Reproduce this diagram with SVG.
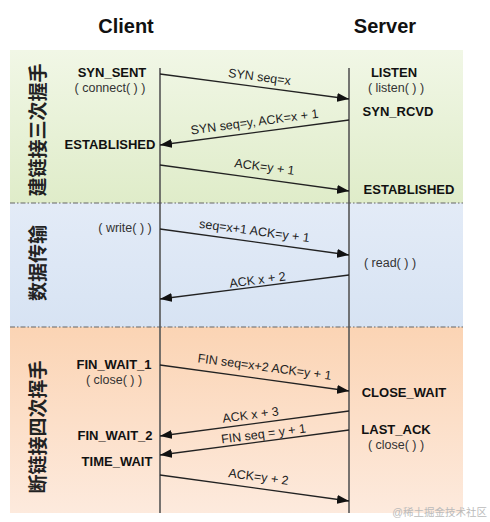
<svg xmlns="http://www.w3.org/2000/svg" width="490" height="522" viewBox="0 0 490 522">
<defs>
<linearGradient id="gGreen" x1="0" y1="0" x2="0" y2="1"><stop offset="0" stop-color="#f1f7e6"/><stop offset="1" stop-color="#dfecc9"/></linearGradient>
<linearGradient id="gBlue" x1="0" y1="0" x2="0" y2="1"><stop offset="0" stop-color="#e3ebf7"/><stop offset="1" stop-color="#d7e3f3"/></linearGradient>
<linearGradient id="gOrange" x1="0" y1="0" x2="0" y2="1"><stop offset="0" stop-color="#fbd4b4"/><stop offset="1" stop-color="#fdeadd"/></linearGradient>
<marker id="ah" markerUnits="userSpaceOnUse" markerWidth="13" markerHeight="9" refX="12" refY="4.5" orient="auto"><path d="M0,0 L12,4.5 L0,9 z" fill="#111"/></marker>
</defs>
<style>
.title{font-family:"Liberation Sans",Arial,sans-serif;font-size:20px;font-weight:bold;fill:#111;text-anchor:middle}
.st{font-family:"Liberation Sans",Arial,sans-serif;font-size:13px;font-weight:bold;fill:#111;text-anchor:middle}
.fn{font-family:"Liberation Sans",Arial,sans-serif;font-size:12.5px;fill:#333;text-anchor:middle}
.lb{font-family:"Liberation Sans",Arial,sans-serif;font-size:12.5px;fill:#222;text-anchor:middle}
.cjk{font-family:"Liberation Sans","Noto Sans CJK SC",sans-serif;font-size:19px;font-weight:bold;fill:#222;text-anchor:middle;dominant-baseline:central}
.msg{stroke:#222;stroke-width:1.3;fill:none;marker-end:url(#ah)}
.life{stroke:#555;stroke-width:1.6}
.sep{stroke:#666;stroke-width:1.2;stroke-dasharray:5 2 1.5 2}
.wm{font-family:"Liberation Sans","Noto Sans CJK SC",sans-serif;font-size:10.5px;fill:#bbb;text-anchor:end}
</style>
<rect x="0" y="0" width="490" height="522" fill="#ffffff"/>
<g id="zones">
<rect x="10" y="50" width="453" height="153" fill="url(#gGreen)"/>
<rect x="10" y="203" width="453" height="124" fill="url(#gBlue)"/>
<rect x="10" y="327" width="453" height="186" fill="url(#gOrange)"/>
<line class="sep" x1="10" y1="203" x2="463" y2="203"/>
<line class="sep" x1="10" y1="327" x2="463" y2="327"/>
</g>
<g id="phase-labels">
<text class="cjk" transform="translate(38,130) rotate(-90)">建链接三次握手</text>
<text class="cjk" transform="translate(38,263) rotate(-90)">数据传输</text>
<text class="cjk" transform="translate(38,427) rotate(-90)">断链接四次挥手</text>
</g>
<g id="client">
<text class="title" x="126" y="33">Client</text>
<line class="life" x1="160" y1="68" x2="160" y2="513"/>
</g>
<g id="server">
<text class="title" x="385" y="33">Server</text>
<line class="life" x1="349" y1="68" x2="349" y2="513"/>
</g>
<g id="client-states">
<text class="st" x="112" y="77">SYN_SENT</text>
<text class="fn" x="110" y="92">( connect( ) )</text>
<text class="st" x="110" y="149">ESTABLISHED</text>
<text class="fn" x="125" y="232">( write( ) )</text>
<text class="st" x="114" y="369">FIN_WAIT_1</text>
<text class="fn" x="114" y="384">( close( ) )</text>
<text class="st" x="115" y="440">FIN_WAIT_2</text>
<text class="st" x="117" y="466">TIME_WAIT</text>
</g>
<g id="server-states">
<text class="st" x="394" y="77">LISTEN</text>
<text class="fn" x="396" y="92">( listen( ) )</text>
<text class="st" x="398" y="116">SYN_RCVD</text>
<text class="st" x="409" y="194">ESTABLISHED</text>
<text class="fn" x="390" y="267">( read( ) )</text>
<text class="st" x="404" y="397">CLOSE_WAIT</text>
<text class="st" x="396" y="434">LAST_ACK</text>
<text class="fn" x="396" y="449">( close( ) )</text>
</g>
<g id="connectors">
<line class="msg" x1="160" y1="74" x2="349" y2="99"/>
<line class="msg" x1="349" y1="120" x2="160" y2="145"/>
<line class="msg" x1="160" y1="165" x2="349" y2="191"/>
<line class="msg" x1="160" y1="229" x2="349" y2="255"/>
<line class="msg" x1="349" y1="275" x2="160" y2="299"/>
<line class="msg" x1="160" y1="365" x2="349" y2="391"/>
<line class="msg" x1="349" y1="411" x2="160" y2="436"/>
<line class="msg" x1="349" y1="430" x2="160" y2="455"/>
<line class="msg" x1="160" y1="475" x2="349" y2="501"/>
</g>
<g id="connector-labels">
<text class="lb" x="259" y="81" transform="rotate(7.5 259 81)">SYN seq=x</text>
<text class="lb" x="255" y="126" transform="rotate(-7.5 255 126)">SYN seq=y, ACK=x + 1</text>
<text class="lb" x="264" y="171" transform="rotate(7.5 264 171)">ACK=y + 1</text>
<text class="lb" x="254" y="235" transform="rotate(7.5 254 235)">seq=x+1 ACK=y + 1</text>
<text class="lb" x="258" y="284" transform="rotate(-7.5 258 284)">ACK x + 2</text>
<text class="lb" x="264" y="371" transform="rotate(7.5 264 371)">FIN seq=x+2 ACK=y + 1</text>
<text class="lb" x="251" y="419" transform="rotate(-7.5 251 419)">ACK x + 3</text>
<text class="lb" x="264" y="438" transform="rotate(-7.5 264 438)">FIN seq = y + 1</text>
<text class="lb" x="258" y="481" transform="rotate(7.5 258 481)">ACK=y + 2</text>
</g>
<text class="wm" x="487" y="516">@稀土掘金技术社区</text>
</svg>
